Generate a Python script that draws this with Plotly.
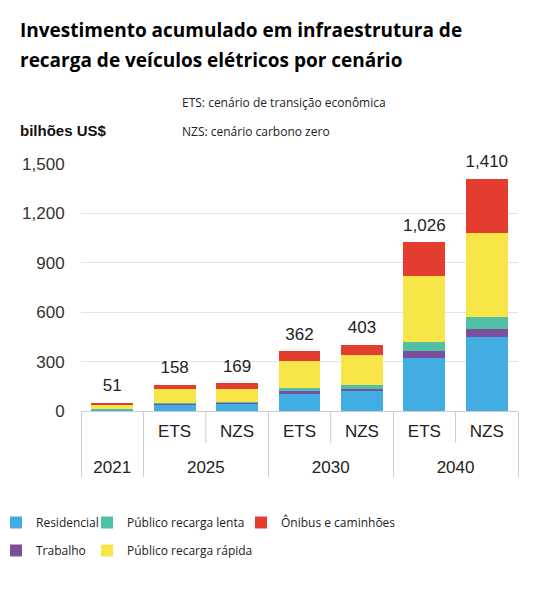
import plotly.graph_objects as go

# Data (bilhões US$)
years = ["2021", "2025", "2025", "2030", "2030", "2040", "2040"]
scenarios = [" ", "ETS", "NZS", "ETS", "NZS", "ETS", "NZS"]

residencial = [8, 40, 44, 103, 123, 322, 450]
trabalho = [3, 4, 5, 20, 12, 42, 47]
recarga_lenta = [3, 4, 4, 17, 23, 55, 75]
recarga_rapida = [26, 84, 83, 163, 182, 400, 510]
onibus = [11, 26, 33, 59, 63, 207, 328]
totals = [51, 158, 169, 362, 403, 1026, 1410]

# tick labels drawn at 17px inside a smaller base font; the inner row gets
# blank extra lines so the year row sits lower, as in the original
big = "<span style='font-size:17px'>{}</span>"
x = [[big.format(y) for y in years],
     [big.format(s) + "<br> <br> " for s in scenarios]]

# name, values, bar colour, legend, legend rank
series = [
    ("Residencial", residencial, "#41ade2", "legend", 1),
    ("Trabalho", trabalho, "#7a4f9e", "legend", 2),
    ("Público recarga lenta", recarga_lenta, "#4fbfa5", "legend2", 1),
    ("Público recarga rápida", recarga_rapida, "#f8e548", "legend2", 2),
    ("Ônibus e caminhões", onibus, "#e43c2e", "legend3", 1),
]

# page has an 8px body margin, so the figure is drawn a bit smaller
OFF = 8
W, H = 547 - OFF, 597 - OFF
L, R, T, B = 81 - OFF, 29, 164 - OFF, 186
PW, PH = W - L - R, H - T - B


def px(xp):
    # window pixel -> paper fraction
    return (xp - OFF - L) / PW


def py(yp):
    return (H - B - (yp - OFF)) / PH


fig = go.Figure()

for name, vals, color, leg, rank in series:
    fig.add_trace(go.Bar(
        name=name,
        x=x,
        y=vals,
        marker_color=color,
        marker_line_width=0,
        legend=leg,
        legendgroup=name,
        legendrank=rank,
    ))

# totals above each stack
fig.add_trace(go.Scatter(
    x=x,
    y=totals,
    mode="markers+text",
    text=[f"{t:,}" for t in totals],
    textposition="top center",
    textfont=dict(family="Liberation Sans, Arial", size=17, color="#222"),
    marker=dict(size=10, color="rgba(0,0,0,0)"),
    cliponaxis=False,
    showlegend=False,
    hoverinfo="skip",
))

# short dividers between ETS and NZS
for pos in [1.5, 3.5, 5.5]:
    fig.add_shape(type="line", xref="x", yref="y domain",
                  x0=pos, x1=pos, y0=0, y1=-0.13,
                  line=dict(color="#cccccc", width=1))

legend_style = dict(
    orientation="v",
    xref="paper", yref="paper",
    yanchor="top", xanchor="left",
    font=dict(family="Open Sans", size=12, color="#222"),
    tracegroupgap=9,
    bgcolor="rgba(0,0,0,0)",
)

title_font = dict(family="Open Sans", size=19, color="#000")
note_font = dict(family="Open Sans", size=12, color="#222")

fig.update_layout(
    width=W, height=H,
    barmode="stack",
    bargap=0.33,
    plot_bgcolor="white",
    paper_bgcolor="white",
    margin=dict(l=L, r=R, t=T, b=B, autoexpand=False),
    xaxis=dict(
        showline=True, linecolor="#cccccc", linewidth=1,
        showdividers=True, dividercolor="#cccccc", dividerwidth=1,
        ticklabelstandoff=12,
        tickfont=dict(family="Liberation Sans, Arial", size=11, color="#222"),
        showgrid=False,
    ),
    yaxis=dict(
        range=[0, 1500],
        dtick=300,
        tickformat=",",
        showgrid=True, gridcolor="#e3e3e3", gridwidth=1,
        zeroline=False,
        ticks="outside", ticklen=12, tickcolor="rgba(0,0,0,0)",
        tickfont=dict(family="Liberation Sans, Arial", size=17, color="#333"),
    ),
    legend=dict(legend_style, x=px(-4), y=py(508)),
    legend2=dict(legend_style, x=px(87), y=py(508)),
    legend3=dict(legend_style, x=px(241), y=py(508)),
    annotations=[
        dict(text="<b>Investimento acumulado em infraestrutura de</b>",
             xref="paper", yref="paper", x=px(18), y=py(30),
             xanchor="left", yanchor="middle", showarrow=False, font=title_font),
        dict(text="<b>recarga de veículos elétricos por cenário</b>",
             xref="paper", yref="paper", x=px(18), y=py(60),
             xanchor="left", yanchor="middle", showarrow=False, font=title_font),
        dict(text="<b>bilhões US$</b>", xref="paper", yref="paper",
             x=px(18), y=py(130), xanchor="left", yanchor="middle",
             showarrow=False,
             font=dict(family="Liberation Sans, Arial", size=15, color="#111")),
        dict(text="ETS: cenário de transição econômica", xref="paper", yref="paper",
             x=px(180), y=py(102), xanchor="left", yanchor="middle",
             showarrow=False, font=note_font),
        dict(text="NZS: cenário carbono zero", xref="paper", yref="paper",
             x=px(180), y=py(131), xanchor="left", yanchor="middle",
             showarrow=False, font=note_font),
    ],
)

fig.write_html("out.html")
